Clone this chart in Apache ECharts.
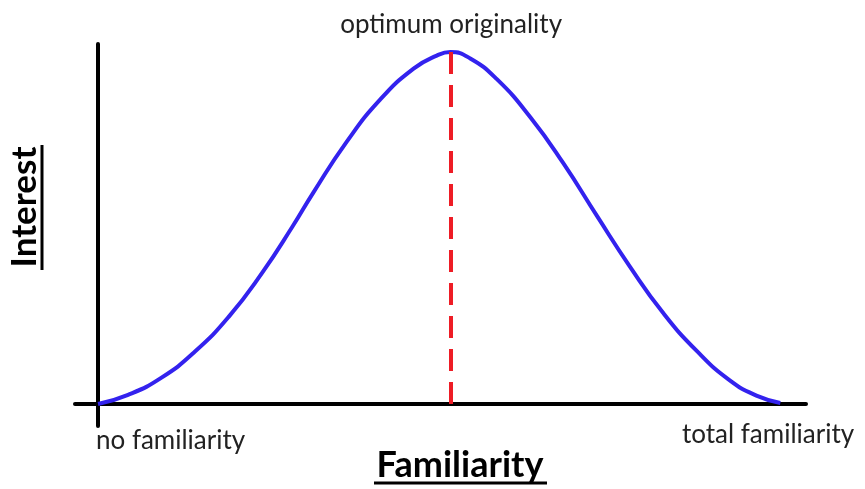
<!DOCTYPE html>
<html>
<head>
<meta charset="utf-8">
<script src="https://cdn.jsdelivr.net/npm/echarts@6/dist/echarts.min.js"></script>
<style>
  html, body { margin: 0; padding: 0; background: #fff; }
  #main { width: 865px; height: 489px; }
</style>
</head>
<body>
<div id="main"></div>
<script>
// familiarity (0 = none, 100 = total) vs interest (100 = peak)
var familiarity = [0, 4.4, 9.3, 14.2, 19.1, 24.0, 28.5, 31.5, 36.4, 41.3, 46.2, 49.6, 51.6, 54.5, 58.4, 63.3, 68.1, 73.1, 77.9, 82.7, 87.7, 92.5, 96.4, 99.9];
var interest = [0, 2.6, 7.5, 14.9, 24.7, 37.2, 50.5, 60.0, 74.5, 86.5, 95.3, 99.0, 100, 98.2, 92.3, 81.5, 68.5, 53.3, 39.0, 26.0, 15.0, 6.7, 2.4, 0.3];
var optimum = 51.7;
var endLabels = ['no familiarity', 'total familiarity'];

var points = familiarity.map(function (f, i) { return [f, interest[i]]; });

var myChart = echarts.init(document.getElementById('main'));
var font = 'Lato, "Open Sans", sans-serif';

var option = {
    animation: false,
    grid: { left: 75, right: 59, top: 44, bottom: 63 },
    xAxis: {
        type: 'value', min: -3.37, max: 103.66,
        axisLine: { onZero: true, lineStyle: { color: '#000', width: 4 } },
        axisTick: { show: false }, axisLabel: { show: false }, splitLine: { show: false }
    },
    yAxis: {
        type: 'value', min: -6.25, max: 102.3,
        axisLine: { show: true, onZero: true, lineStyle: { color: '#000', width: 4 } },
        axisTick: { show: false }, axisLabel: { show: false }, splitLine: { show: false }
    },
    series: [{
        type: 'line',
        data: points,
        smooth: 0.5,
        symbol: 'none',
        lineStyle: { color: '#3322ee', width: 4 },
        z: 3,
        markLine: {
            silent: true,
            symbol: 'none',
            lineStyle: { color: '#ee1c25', width: 4, type: [22, 11] },
            label: {
                show: true, position: 'end', distance: 14,
                formatter: 'optimum originality',
                color: '#222', fontSize: 26, fontFamily: font
            },
            data: [[{ coord: [optimum, 0] }, { coord: [optimum, 100] }]]
        }
    }],
    graphic: [
        { type: 'text', x: 96, y: 441, style: { text: endLabels[0], fontSize: 26, fontFamily: font, fill: '#222', verticalAlign: 'middle' } },
        { type: 'text', x: 682, y: 435, style: { text: endLabels[1], fontSize: 26, fontFamily: font, fill: '#222', verticalAlign: 'middle' } },
        { type: 'text', x: 460, y: 465, style: { text: 'Familiarity', fontSize: 36, fontWeight: 'bold', fontFamily: font, fill: '#000', align: 'center', verticalAlign: 'middle' } },
        { type: 'line', shape: { x1: 374, y1: 483, x2: 547, y2: 483 }, style: { stroke: '#000', lineWidth: 3 } },
        { type: 'text', x: 25, y: 207, rotation: Math.PI / 2, style: { text: 'Interest', fontSize: 35, fontWeight: 'bold', fontFamily: font, fill: '#000', align: 'center', verticalAlign: 'middle' } },
        { type: 'line', shape: { x1: 42, y1: 145, x2: 42, y2: 270 }, style: { stroke: '#000', lineWidth: 3 } }
    ]
};
myChart.setOption(option);
</script>
</body>
</html>
